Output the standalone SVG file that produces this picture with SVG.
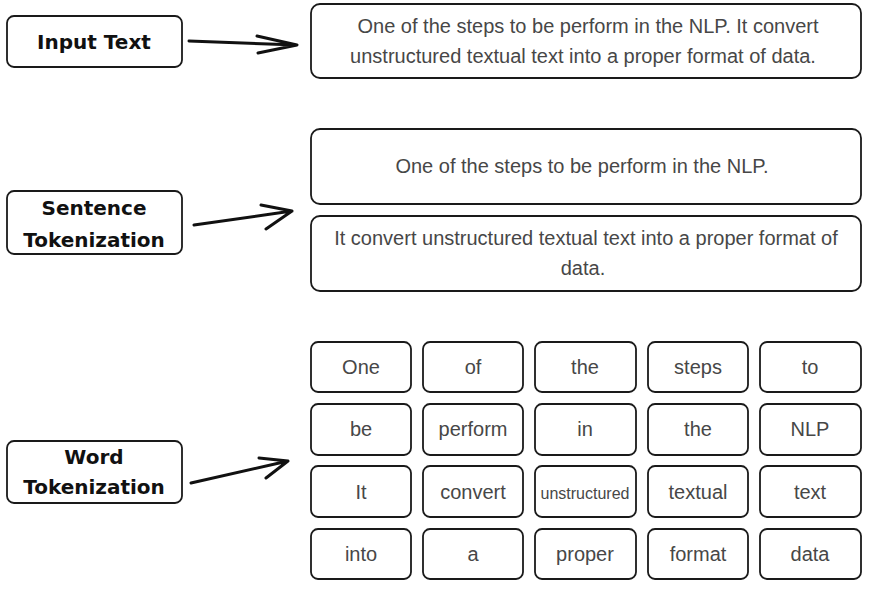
<svg xmlns="http://www.w3.org/2000/svg" width="896" height="612" viewBox="0 0 896 612">
<style>
.box{fill:#fff;stroke:#1a1a1a;stroke-width:1.8}
.lbl{font-family:"DejaVu Sans",Verdana,sans-serif;font-weight:bold;font-size:20px;fill:#111;text-anchor:middle}
.txt{font-family:"Liberation Sans",Arial,sans-serif;font-size:20px;fill:#474747;text-anchor:middle}
.small{font-size:16px}
.arr{fill:none;stroke:#111;stroke-width:3;stroke-linecap:round;stroke-linejoin:round}
</style>
<rect width="896" height="612" fill="#fff"/>
<g id="input-text">
<rect class="box" x="7" y="16" width="175" height="51" rx="7"/>
<text class="lbl" x="94" y="49">Input Text</text>
</g>
<g id="input-content">
<rect class="box" x="311" y="4" width="550" height="74" rx="9"/>
<text class="txt" x="588" y="33">One of the steps to be perform in the NLP. It convert</text>
<text class="txt" x="583" y="63">unstructured textual text into a proper format of data.</text>
</g>
<g id="sentence-tokenization">
<rect class="box" x="7" y="191" width="175" height="63" rx="7"/>
<text class="lbl" x="94" y="215">Sentence</text>
<text class="lbl" x="94" y="247">Tokenization</text>
</g>
<g id="sentence-1">
<rect class="box" x="311" y="129" width="550" height="75" rx="9"/>
<text class="txt" x="582" y="173">One of the steps to be perform in the NLP.</text>
</g>
<g id="sentence-2">
<rect class="box" x="311" y="216" width="550" height="75" rx="9"/>
<text class="txt" x="586" y="245">It convert unstructured textual text into a proper format of</text>
<text class="txt" x="583" y="275">data.</text>
</g>
<g id="word-tokenization">
<rect class="box" x="7" y="441" width="175" height="62" rx="7"/>
<text class="lbl" x="94" y="464">Word</text>
<text class="lbl" x="94" y="494">Tokenization</text>
</g>
<g id="words">
<g id="w1"><rect class="box" x="311" y="342" width="100" height="50" rx="7"/><text class="txt" x="361" y="374">One</text></g>
<g id="w2"><rect class="box" x="423" y="342" width="100" height="50" rx="7"/><text class="txt" x="473" y="374">of</text></g>
<g id="w3"><rect class="box" x="535" y="342" width="101" height="50" rx="7"/><text class="txt" x="585" y="374">the</text></g>
<g id="w4"><rect class="box" x="648" y="342" width="100" height="50" rx="7"/><text class="txt" x="698" y="374">steps</text></g>
<g id="w5"><rect class="box" x="760" y="342" width="101" height="50" rx="7"/><text class="txt" x="810" y="374">to</text></g>
<g id="w6"><rect class="box" x="311" y="404" width="100" height="51" rx="7"/><text class="txt" x="361" y="436">be</text></g>
<g id="w7"><rect class="box" x="423" y="404" width="100" height="51" rx="7"/><text class="txt" x="473" y="436">perform</text></g>
<g id="w8"><rect class="box" x="535" y="404" width="101" height="51" rx="7"/><text class="txt" x="585" y="436">in</text></g>
<g id="w9"><rect class="box" x="648" y="404" width="100" height="51" rx="7"/><text class="txt" x="698" y="436">the</text></g>
<g id="w10"><rect class="box" x="760" y="404" width="101" height="51" rx="7"/><text class="txt" x="810" y="436">NLP</text></g>
<g id="w11"><rect class="box" x="311" y="466" width="100" height="51" rx="7"/><text class="txt" x="361" y="499">It</text></g>
<g id="w12"><rect class="box" x="423" y="466" width="100" height="51" rx="7"/><text class="txt" x="473" y="499">convert</text></g>
<g id="w13"><rect class="box" x="535" y="466" width="101" height="51" rx="7"/><text class="txt small" x="585" y="499">unstructured</text></g>
<g id="w14"><rect class="box" x="648" y="466" width="100" height="51" rx="7"/><text class="txt" x="698" y="499">textual</text></g>
<g id="w15"><rect class="box" x="760" y="466" width="101" height="51" rx="7"/><text class="txt" x="810" y="499">text</text></g>
<g id="w16"><rect class="box" x="311" y="529" width="100" height="50" rx="7"/><text class="txt" x="361" y="561">into</text></g>
<g id="w17"><rect class="box" x="423" y="529" width="100" height="50" rx="7"/><text class="txt" x="473" y="561">a</text></g>
<g id="w18"><rect class="box" x="535" y="529" width="101" height="50" rx="7"/><text class="txt" x="585" y="561">proper</text></g>
<g id="w19"><rect class="box" x="648" y="529" width="100" height="50" rx="7"/><text class="txt" x="698" y="561">format</text></g>
<g id="w20"><rect class="box" x="760" y="529" width="101" height="50" rx="7"/><text class="txt" x="810" y="561">data</text></g>
</g>
<g id="connectors">
<path class="arr" d="M189 41 L297 45 M257 36 L297 45 L258 53"/>
<path class="arr" d="M194 225 L292 211 M261 205 L292 211 L266 229"/>
<path class="arr" d="M191 483 L288 461 M259 458 L288 461 L266 478"/>
</g>
</svg>
